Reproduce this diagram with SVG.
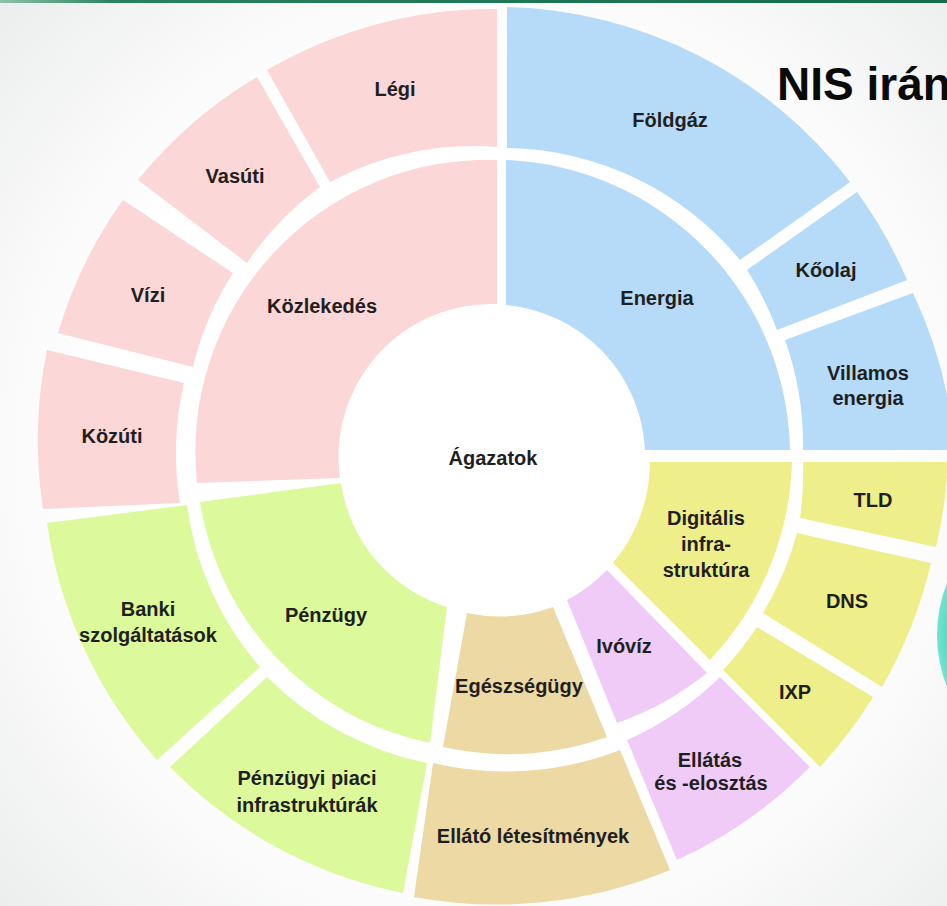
<svg xmlns="http://www.w3.org/2000/svg" width="947" height="906" viewBox="0 0 947 906">
  <defs>
    <radialGradient id="bgGlow" cx="490" cy="455" r="720" gradientUnits="userSpaceOnUse">
      <stop offset="0.55" stop-color="#ffffff"/>
      <stop offset="1" stop-color="#e8ebe9"/>
    </radialGradient>
    <linearGradient id="topBar" x1="0" y1="0" x2="947" y2="0" gradientUnits="userSpaceOnUse">
      <stop offset="0" stop-color="#8fc2a8"/>
      <stop offset="0.12" stop-color="#2a8160"/>
      <stop offset="1" stop-color="#136b49"/>
    </linearGradient>
    <radialGradient id="tealDisc" cx="1077" cy="635" r="140" gradientUnits="userSpaceOnUse">
      <stop offset="0.85" stop-color="#3fd3bb"/>
      <stop offset="1" stop-color="#74e2cf"/>
    </radialGradient>
  </defs>
  <style>
    .lbl { font-family: "Liberation Sans", Arial, sans-serif; font-weight: bold; font-size: 20px; fill: #1f1f1f; text-anchor: middle; }
    .title { font-family: "Liberation Sans", Arial, sans-serif; font-weight: bold; font-size: 46px; fill: #0a0a0a; }
    .pink { fill: #fbd7d8; }
    .blue { fill: #b5dbf9; }
    .yellow { fill: #eeef8b; }
    .lilac { fill: #f0cbf8; }
    .sand { fill: #ecd9a4; }
    .lime { fill: #dcf99b; }
  </style>

  <!-- backdrop -->
  <rect x="0" y="0" width="947" height="906" fill="url(#bgGlow)"/>
  <rect x="0" y="0" width="947" height="3" fill="url(#topBar)"/>
  <circle cx="1077" cy="635" r="140" fill="url(#tealDisc)"/>
  <text class="title" x="777" y="100">NIS irán</text>

  <!-- centre -->
  <g id="agazatok">
    <circle cx="492" cy="457" r="152" fill="#ffffff"/>
    <text class="lbl" x="493" y="465">Ágazatok</text>
  </g>

  <!-- Közlekedés -->
  <g id="kozlekedes">
    <path class="pink" d="M497,160 A292,292 0 0 0 197,483 L340,478 A153,153 0 0 1 497,304 Z"/>
    <text class="lbl" x="322" y="313">Közlekedés</text>
  </g>
  <g id="legi">
    <path class="pink" d="M497,9 A446,446 0 0 0 267,70 L330,182 A305,305 0 0 1 497,147 Z"/>
    <text class="lbl" x="395" y="96">Légi</text>
  </g>
  <g id="vasuti">
    <path class="pink" d="M257,77 A446,446 0 0 0 138,180 L247,263 A305,305 0 0 1 320,187 Z"/>
    <text class="lbl" x="235" y="183">Vasúti</text>
  </g>
  <g id="vizi">
    <path class="pink" d="M123,200 A446,446 0 0 0 58,333 L193,367 A305,305 0 0 1 233,273 Z"/>
    <text class="lbl" x="148" y="302">Vízi</text>
  </g>
  <g id="kozuti">
    <path class="pink" d="M47,350 A450,450 0 0 0 43,509 L180,503 A310,310 0 0 1 184,383 Z"/>
    <text class="lbl" x="112" y="443">Közúti</text>
  </g>

  <!-- Energia -->
  <g id="energia">
    <path class="blue" d="M506,160 A296,296 0 0 1 790,450 L645,450 A153,153 0 0 0 506,305 Z"/>
    <text class="lbl" x="657" y="305">Energia</text>
  </g>
  <g id="foldgaz">
    <path class="blue" d="M507,7 A446,446 0 0 1 850,182 L740,260 A308,308 0 0 0 507,148 Z"/>
    <text class="lbl" x="670" y="127">Földgáz</text>
  </g>
  <g id="koolaj">
    <path class="blue" d="M747,270 L857,192 A448,448 0 0 1 907,280 L777,330 A310,310 0 0 0 747,270 Z"/>
    <text class="lbl" x="826" y="277">Kőolaj</text>
  </g>
  <g id="villamos-energia">
    <path class="blue" d="M785,340 L913,293 A458,458 0 0 1 955,450 L803,450 A312,312 0 0 0 785,340 Z"/>
    <text class="lbl" x="868" y="380">Villamos</text>
    <text class="lbl" x="868" y="405">energia</text>
  </g>

  <!-- Digitális infrastruktúra -->
  <g id="digitalis-infrastruktura">
    <path class="yellow" d="M650,462 L792,462 A300,300 0 0 1 710,660 L613,563 A158,158 0 0 0 650,462 Z"/>
    <text class="lbl" x="706" y="525">Digitális</text>
    <text class="lbl" x="706" y="551">infra-</text>
    <text class="lbl" x="706" y="577">struktúra</text>
  </g>
  <g id="tld">
    <path class="yellow" d="M803,462 L948,462 A455,455 0 0 1 936,547 L800,518 A316,316 0 0 0 803,462 Z"/>
    <text class="lbl" x="873" y="507">TLD</text>
  </g>
  <g id="dns">
    <path class="yellow" d="M797,533 L931,563 A455,455 0 0 1 882,687 L763,613 A316,316 0 0 0 797,533 Z"/>
    <text class="lbl" x="847" y="608">DNS</text>
  </g>
  <g id="ixp">
    <path class="yellow" d="M757,627 L873,697 A455,455 0 0 1 820,767 L723,670 A316,316 0 0 0 757,627 Z"/>
    <text class="lbl" x="795" y="699">IXP</text>
  </g>

  <!-- Ivóvíz -->
  <g id="ivoviz">
    <path class="lilac" d="M567,600 A155,155 0 0 0 607,570 L707,673 A300,300 0 0 1 617,723 Z"/>
    <text class="lbl" x="624" y="653">Ivóvíz</text>
  </g>
  <g id="ellatas-elosztas">
    <path class="lilac" d="M627,740 A315,315 0 0 0 720,677 L810,767 A452,452 0 0 1 677,860 Z"/>
    <text class="lbl" x="710" y="767">Ellátás</text>
    <text class="lbl" x="711" y="790">és -elosztás</text>
  </g>

  <!-- Egészségügy -->
  <g id="egeszsegugy">
    <path class="sand" d="M467,613 A155,155 0 0 0 553,607 L607,737 A300,300 0 0 1 443,747 Z"/>
    <text class="lbl" x="519" y="693">Egészségügy</text>
  </g>
  <g id="ellato-letesitmenyek">
    <path class="sand" d="M433,763 A315,315 0 0 0 620,750 L670,870 A452,452 0 0 1 414,897 Z"/>
    <text class="lbl" x="533" y="843">Ellátó létesítmények</text>
  </g>

  <!-- Pénzügy -->
  <g id="penzugy">
    <path class="lime" d="M200,502 L341,483 A153,153 0 0 0 447,607 L430,743 A292,292 0 0 1 200,502 Z"/>
    <text class="lbl" x="326" y="622">Pénzügy</text>
  </g>
  <g id="banki-szolgaltatasok">
    <path class="lime" d="M47,523 L187,505 A308,308 0 0 0 260,667 L157,760 A452,452 0 0 1 47,523 Z"/>
    <text class="lbl" x="148" y="616">Banki</text>
    <text class="lbl" x="148" y="642">szolgáltatások</text>
  </g>
  <g id="penzugyi-piaci-infrastrukturak">
    <path class="lime" d="M170,767 L267,677 A315,315 0 0 0 427,763 L403,893 A450,450 0 0 1 170,767 Z"/>
    <text class="lbl" x="307" y="785">Pénzügyi piaci</text>
    <text class="lbl" x="307" y="812">infrastruktúrák</text>
  </g>
</svg>
